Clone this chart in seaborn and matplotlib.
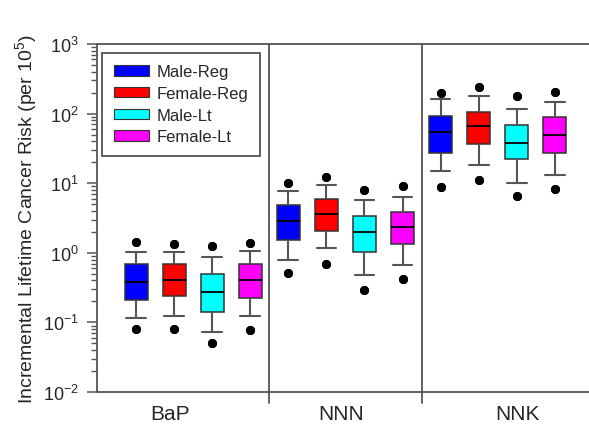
import matplotlib
matplotlib.use("Agg")
import matplotlib.pyplot as plt
import matplotlib.patches as patches
from matplotlib.ticker import LogLocator, LogFormatterSciNotation, NullLocator
import seaborn as sns
import numpy as np
import pandas as pd

# compounds on the x axis, smoker groups as hue
compounds = ['BaP', 'NNN', 'NNK']
groups = ['Male-Reg', 'Female-Reg', 'Male-Lt', 'Female-Lt']
colors = ['#0000FF', '#FF0000', '#00FFFF', '#FF00FF']

# percentiles, one list per compound, in group order
p5 = {'BaP': [0.080, 0.080, 0.051, 0.077],
      'NNN': [0.51, 0.68, 0.29, 0.42],
      'NNK': [8.8, 11.2, 6.5, 8.2]}
p10 = {'BaP': [0.117, 0.125, 0.073, 0.125],
       'NNN': [0.79, 1.16, 0.475, 0.675],
       'NNK': [15.0, 18.1, 10.1, 13.2]}
q1 = {'BaP': [0.21, 0.239, 0.141, 0.222],
      'NNN': [1.51, 2.06, 1.02, 1.34],
      'NNK': [27.2, 36.9, 22.0, 26.9]}
median = {'BaP': [0.377, 0.411, 0.276, 0.411],
          'NNN': [2.89, 3.57, 2.01, 2.32],
          'NNK': [53.9, 65.7, 37.8, 49.8]}
q3 = {'BaP': [0.70, 0.70, 0.491, 0.70],
      'NNN': [4.86, 5.99, 3.41, 3.82],
      'NNK': [91.5, 104, 69.3, 88.5]}
p90 = {'BaP': [1.04, 1.04, 0.87, 1.07],
       'NNN': [7.65, 9.33, 5.79, 6.40],
       'NNK': [161, 177, 118, 148]}
p95 = {'BaP': [1.44, 1.32, 1.26, 1.40],
       'NNN': [9.97, 12.4, 7.99, 9.11],
       'NNK': [198, 239, 179, 204]}

# each box is built from its read percentiles, repeated so that with 21 values
# seaborn's 10/25/50/75/90th percentiles land exactly on them; the 5th/95th show as fliers
repeats = [2, 3, 3, 5, 5, 1, 2]
rows = []
for c in compounds:
    for k, g in enumerate(groups):
        stats = [p5[c][k], p10[c][k], q1[c][k], median[c][k], q3[c][k], p90[c][k], p95[c][k]]
        for v, n in zip(stats, repeats):
            rows += [(c, g, v)] * n
df = pd.DataFrame(rows, columns=['compound', 'group', 'risk'])

sns.set_style('ticks')
plt.rcParams['font.family'] = ['Liberation Sans', 'DejaVu Sans']
plt.rcParams['mathtext.fontset'] = 'custom'
plt.rcParams['mathtext.rm'] = 'Liberation Sans'
plt.rcParams['mathtext.it'] = 'Liberation Sans:italic'
plt.rcParams['mathtext.bf'] = 'Liberation Sans:bold'

axcol = '#555555'
fig = plt.figure(figsize=(5.89, 4.27), dpi=100)
ax = fig.add_axes([97 / 589, 1 - 393 / 427, 1 - 97 / 589, 348 / 427])

sns.boxplot(data=df, x='compound', y='risk', hue='group', order=compounds,
            hue_order=groups, palette=colors, saturation=1, width=1.0, gap=0.4,
            whis=(10, 90), log_scale=True, linecolor='#333333', linewidth=1.1,
            fliersize=5.5, capwidths=0.13,
            flierprops=dict(marker='o', markerfacecolor='black', markeredgecolor='black'),
            whiskerprops=dict(color='#555555', linewidth=1.5),
            capprops=dict(color='#555555', linewidth=1.5),
            medianprops=dict(color='black', linewidth=1.3),
            legend=False, ax=ax)

ax.set_ylim(1e-2, 1e3)
ax.set_xlim(-0.632, 2.6)
ax.set_xlabel('')
ax.set_ylabel('Incremental Lifetime Cancer Risk (per 10$^5$)', fontsize=14, labelpad=3)

# group separators, running a little below the axis
for xs in [0.5, 1.5]:
    ax.axvline(xs, ymin=-0.032, ymax=1, color=axcol, lw=1.3, clip_on=False, zorder=0)

# all log ticks (1..9 per decade) as one set; only decades get a label
ax.yaxis.set_major_locator(LogLocator(base=10, subs=range(1, 10), numticks=100))
ax.yaxis.set_major_formatter(LogFormatterSciNotation(base=10, labelOnlyBase=True))
ax.yaxis.set_minor_locator(NullLocator())

ax.set_xticks([-0.15, 0.97, 2.13])
ax.set_xticklabels(compounds, fontsize=15)
ax.tick_params(axis='x', length=0, pad=9)
ax.tick_params(axis='y', which='major', length=7, width=1.1, color=axcol, labelsize=13, pad=6)

for side in ['left', 'bottom', 'top']:
    ax.spines[side].set_color(axcol)
    ax.spines[side].set_linewidth(1.3)
ax.spines['right'].set_visible(False)

handles = [patches.Patch(facecolor=col, edgecolor='#333333', linewidth=0.8) for col in colors]
leg = ax.legend(handles, groups, loc='upper left', bbox_to_anchor=(0.0102, 0.975),
                borderaxespad=0, fancybox=False, edgecolor=axcol, framealpha=1,
                fontsize=12, handlelength=2.1, handleheight=0.6, labelspacing=0.4,
                borderpad=0.7, handletextpad=0.5)
leg.get_frame().set_linewidth(1.3)

# shorten the in-between ticks
fig.canvas.draw()
for t in ax.yaxis.get_major_ticks():
    e = np.log10(t.get_loc())
    if not np.isclose(e, round(e)):
        t.tick1line.set_markersize(4.3)
        t.tick1line.set_markeredgewidth(1.0)

fig.savefig('out.png', dpi=100)
